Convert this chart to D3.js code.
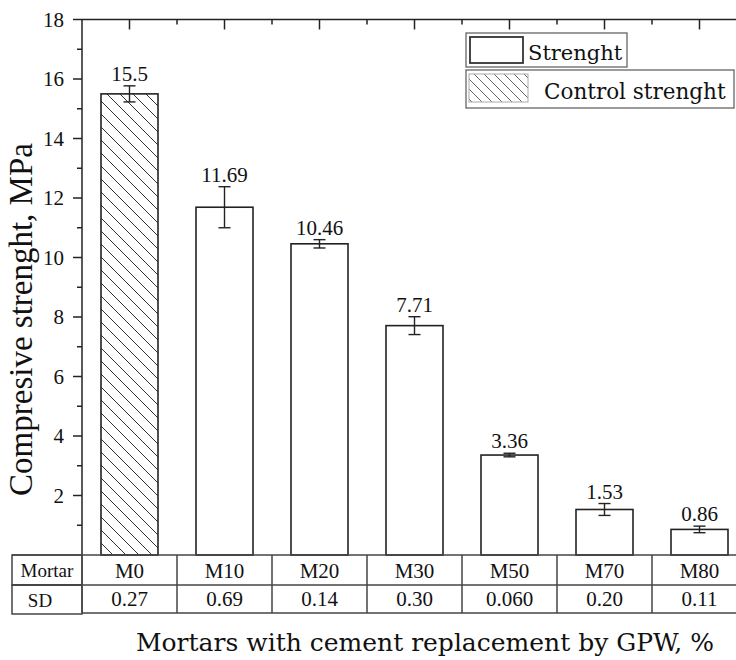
<!DOCTYPE html>
<html><head><meta charset="utf-8">
<script src="https://cdn.jsdelivr.net/npm/d3@7"></script>
<style>body{margin:0;background:#fff}svg{display:block}</style>
</head><body>
<svg id="c" width="736" height="660"></svg>
<script>
const categories = ["M0","M10","M20","M30","M50","M70","M80"];
const strength = [15.5, 11.69, 10.46, 7.71, 3.36, 1.53, 0.86];
const sd = [0.27, 0.69, 0.14, 0.30, 0.060, 0.20, 0.11];
const sdLabels = ["0.27","0.69","0.14","0.30","0.060","0.20","0.11"];
const valueLabels = ["15.5","11.69","10.46","7.71","3.36","1.53","0.86"];
const isControl = [true, false, false, false, false, false, false];
const yMajorTicks = [2,4,6,8,10,12,14,16,18];
const yMinorTicks = [1,3,5,7,9,11,13,15,17];
const legendItems = ["Strenght","Control strenght"];

const svg = d3.select("#c");
const L = 82, R = 747, T = 19.5, B = 555;
const FS = "Liberation Serif";
const FW = "DejaVu Serif";
function txt(sel, fam, size) {
  return sel.attr("font-family", fam).attr("font-size", size).style("font-family", '"' + fam + '"').style("font-size", size + "px");
}

const defs = svg.append("defs");
function hatch(id, s, col, w) {
  const p = defs.append("pattern").attr("id", id).attr("patternUnits","userSpaceOnUse")
    .attr("width", s).attr("height", s);
  p.append("rect").attr("width", s).attr("height", s).attr("fill","#fff");
  p.append("path").attr("d", `M0,0L${s},${s}M${-s/2},${s/2}L${s/2},${s*1.5}M${s/2},${-s/2}L${s*1.5},${s/2}`)
    .attr("stroke", col).attr("stroke-width", w);
}
hatch("h1", 13, "#333", 1);
hatch("h2", 10, "#555", 0.9);

const x = d3.scaleBand().domain(categories).range([L, R]).paddingInner(0.4).paddingOuter(0.2);
const y = d3.scaleLinear().domain([0, 18]).range([B, T]);
const cx = d => x(d) + x.bandwidth()/2;

// bars
const g = svg.append("g");
g.selectAll("rect.bar").data(categories).join("rect")
  .attr("x", d => x(d)).attr("width", x.bandwidth())
  .attr("y", (d,i) => y(strength[i])).attr("height", (d,i) => B - y(strength[i]))
  .attr("fill", (d,i) => isControl[i] ? "url(#h1)" : "#fff")
  .attr("stroke", "#222").attr("stroke-width", 1.6);

// error bars
const eb = g.selectAll("g.eb").data(categories).join("g")
  .attr("stroke", "#222").attr("stroke-width", 1.4);
eb.append("line").attr("x1", cx).attr("x2", cx)
  .attr("y1", (d,i) => y(strength[i]+sd[i])).attr("y2", (d,i) => y(strength[i]-sd[i]));
eb.append("line").attr("x1", d => cx(d)-6).attr("x2", d => cx(d)+6)
  .attr("y1", (d,i) => y(strength[i]+sd[i])).attr("y2", (d,i) => y(strength[i]+sd[i]));
eb.append("line").attr("x1", d => cx(d)-6).attr("x2", d => cx(d)+6)
  .attr("y1", (d,i) => y(strength[i]-sd[i])).attr("y2", (d,i) => y(strength[i]-sd[i]));

// value labels
txt(g.selectAll("text.val").data(categories).join("text"), FS, 21)
  .attr("x", cx).attr("y", (d,i) => y(strength[i]+sd[i]) - 5)
  .attr("text-anchor","middle").attr("fill","#111")
  .text((d,i) => valueLabels[i]);

// left axis
const ax = svg.append("g").attr("stroke","#222").attr("stroke-width",1.5);
ax.append("line").attr("x1", L).attr("x2", L).attr("y1", T).attr("y2", B);
ax.selectAll("line.maj").data(yMajorTicks).join("line")
  .attr("x1", L-9).attr("x2", L).attr("y1", d => y(d)).attr("y2", d => y(d));
ax.selectAll("line.min").data(yMinorTicks).join("line")
  .attr("x1", L-5).attr("x2", L).attr("y1", d => y(d)).attr("y2", d => y(d));
txt(svg.append("g").selectAll("text").data(yMajorTicks).join("text"), FS, 21)
  .attr("x", L-18).attr("y", d => y(d)).attr("dy","0.34em")
  .attr("text-anchor","end").attr("fill","#111")
  .text(d => d);

// top axis
ax.append("line").attr("x1", L).attr("x2", 736).attr("y1", T).attr("y2", T);
ax.selectAll("line.tmaj").data(categories).join("line")
  .attr("x1", cx).attr("x2", cx).attr("y1", T).attr("y2", T+10);
const bounds = categories.map((d,i) => L + i*x.step()).slice(1);
ax.selectAll("line.tmin").data(bounds).join("line")
  .attr("x1", d => d).attr("x2", d => d).attr("y1", T).attr("y2", T+5);

// y label
txt(svg.append("text"), FS, 33).attr("transform", `translate(32,${(137+502)/2}) rotate(-90)`)
  .attr("text-anchor","middle").attr("fill","#111")
  .text("Compresive strenght, MPa");

// table
const tb = svg.append("g").attr("stroke","#444").attr("stroke-width",1.5).attr("fill","none");
tb.append("line").attr("x1", 12).attr("x2", 736).attr("y1", B).attr("y2", B);
tb.append("line").attr("x1", 12).attr("x2", 736).attr("y1", 585).attr("y2", 585);
tb.append("line").attr("x1", L).attr("x2", 736).attr("y1", 613).attr("y2", 613);
tb.append("rect").attr("x", 12).attr("y", B).attr("width", L-12).attr("height", 30);
tb.append("rect").attr("x", 12).attr("y", 585).attr("width", L-12).attr("height", 29);
tb.selectAll("line.cd").data([L].concat(bounds)).join("line")
  .attr("x1", d => d).attr("x2", d => d).attr("y1", B).attr("y2", 613);
const tt = svg.append("g").attr("fill","#111").attr("text-anchor","middle");
txt(tt.append("text"), FS, 19).attr("x", 47).attr("y", 577).text("Mortar");
txt(tt.append("text"), FS, 19).attr("x", 40).attr("y", 607).text("SD");
txt(tt.selectAll("text.cat").data(categories).join("text"), FS, 21)
  .attr("x", cx).attr("y", 578).text(d => d);
txt(tt.selectAll("text.sd").data(categories).join("text"), FS, 21)
  .attr("x", cx).attr("y", 606).text((d,i) => sdLabels[i]);

// x label
txt(svg.append("text"), FW, 25).attr("x", 425).attr("y", 651).attr("text-anchor","middle")
  .attr("fill","#111")
  .text("Mortars with cement replacement by GPW, %");

// legend
const lg = svg.append("g");
lg.append("rect").attr("x",466).attr("y",33).attr("width",161).attr("height",34)
  .attr("fill","#fff").attr("stroke","#666").attr("stroke-width",1.3);
lg.append("rect").attr("x",470).attr("y",37).attr("width",53).attr("height",26)
  .attr("fill","#fff").attr("stroke","#333").attr("stroke-width",1.8);
txt(lg.append("text"), FW, 21).attr("x",528).attr("y",60)
  .attr("fill","#111").text(legendItems[0]);
lg.append("rect").attr("x",466).attr("y",70).attr("width",268).attr("height",38)
  .attr("fill","#fff").attr("stroke","#666").attr("stroke-width",1.3);
lg.append("rect").attr("x",469).attr("y",74).attr("width",59).attr("height",28)
  .attr("fill","url(#h2)").attr("stroke","#aaa").attr("stroke-width",1);
txt(lg.append("text"), FW, 21.5).attr("x",544).attr("y",99)
  .attr("fill","#111").text(legendItems[1]);
</script>
</body></html>
